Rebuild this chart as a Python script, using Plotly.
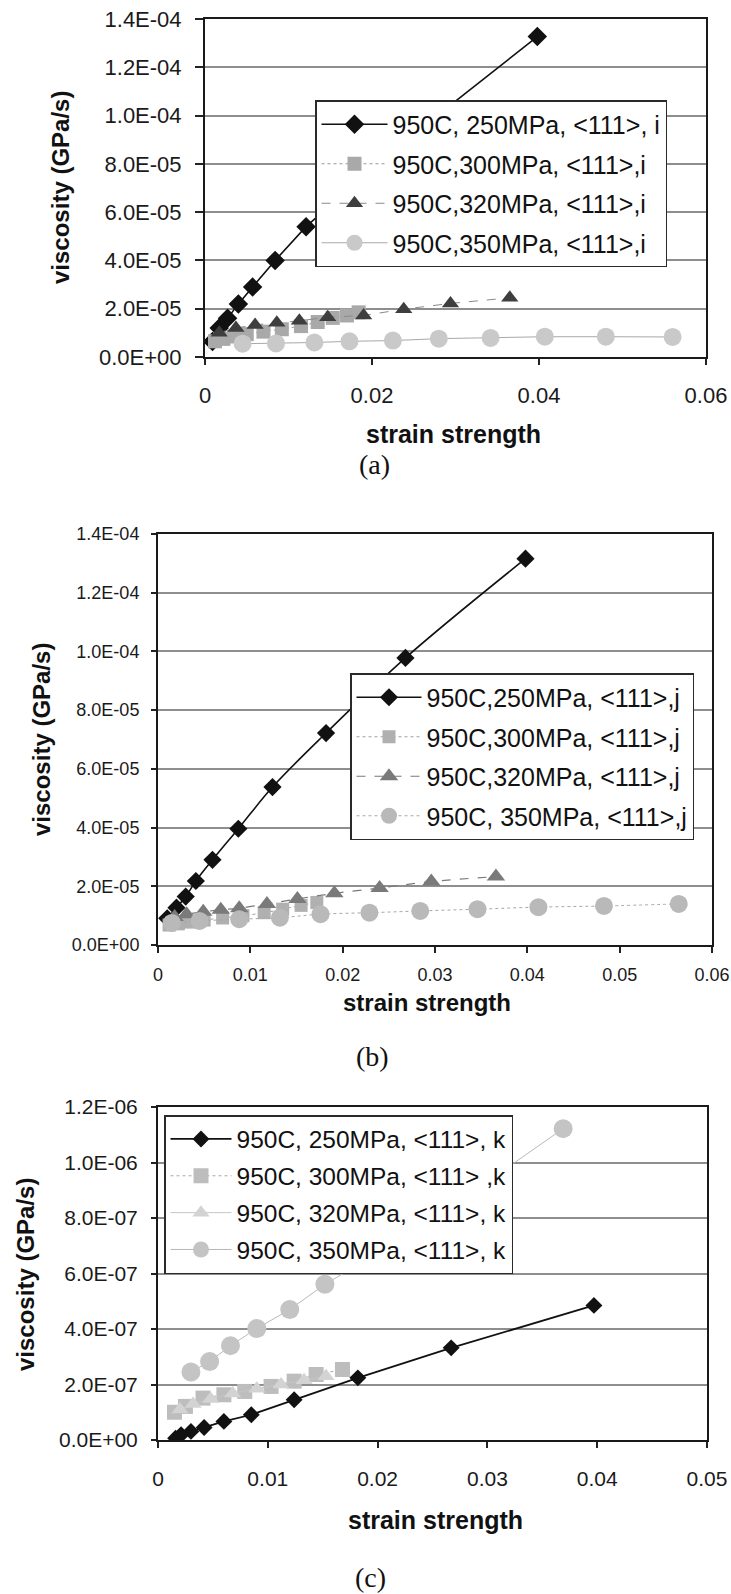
import plotly.graph_objects as go

W, H = 731, 1594

# ---------------- data ----------------
# panel (a)  <111>, i
x250a = [0.0009, 0.0017, 0.0027, 0.0040, 0.0057, 0.0084, 0.0121, 0.0180, 0.0267, 0.0398]
y250a = [6.4e-6, 1.2e-5, 1.6e-5, 2.2e-5, 2.9e-5, 4.0e-5, 5.4e-5, 7.2e-5, 9.7e-5, 1.327e-4]
x300a = [0.0012, 0.0022, 0.0035, 0.0050, 0.0070, 0.0092, 0.0115, 0.0135, 0.0153, 0.0170, 0.0184]
y300a = [6.5e-6, 7.5e-6, 8.5e-6, 9.5e-6, 1.05e-5, 1.15e-5, 1.28e-5, 1.45e-5, 1.62e-5, 1.72e-5, 1.85e-5]
x320a = [0.0017, 0.0037, 0.0060, 0.0086, 0.0113, 0.0147, 0.0190, 0.0238, 0.0294, 0.0365]
y320a = [1.0e-5, 1.2e-5, 1.33e-5, 1.42e-5, 1.5e-5, 1.65e-5, 1.72e-5, 1.98e-5, 2.22e-5, 2.45e-5]
x350a = [0.0045, 0.0085, 0.0131, 0.0173, 0.0225, 0.0280, 0.0342, 0.0407, 0.0480, 0.0560]
y350a = [5.5e-6, 5.6e-6, 6.0e-6, 6.5e-6, 6.8e-6, 7.6e-6, 7.9e-6, 8.4e-6, 8.4e-6, 8.3e-6]

# panel (b)  <111>, j
x250b = [0.0010, 0.0020, 0.0030, 0.0041, 0.0059, 0.0087, 0.0124, 0.0182, 0.0268, 0.0398]
y250b = [9.1e-6, 1.27e-5, 1.65e-5, 2.18e-5, 2.9e-5, 3.96e-5, 5.38e-5, 7.22e-5, 9.78e-5, 1.316e-4]
x300b = [0.0012, 0.0022, 0.0035, 0.0050, 0.0070, 0.0092, 0.0115, 0.0135, 0.0155, 0.0172]
y300b = [6.8e-6, 7.2e-6, 7.8e-6, 8.5e-6, 9.2e-6, 1.0e-5, 1.1e-5, 1.22e-5, 1.35e-5, 1.45e-5]
x320b = [0.0018, 0.0031, 0.0049, 0.0068, 0.0088, 0.0118, 0.0151, 0.0191, 0.0240, 0.0296, 0.0366]
y320b = [9.5e-6, 1.05e-5, 1.13e-5, 1.2e-5, 1.25e-5, 1.4e-5, 1.57e-5, 1.76e-5, 1.94e-5, 2.16e-5, 2.33e-5]
x350b = [0.0015, 0.0045, 0.0088, 0.0132, 0.0176, 0.0229, 0.0284, 0.0346, 0.0412, 0.0483, 0.0564]
y350b = [7.5e-6, 8.2e-6, 8.8e-6, 9.3e-6, 1.05e-5, 1.1e-5, 1.16e-5, 1.22e-5, 1.29e-5, 1.33e-5, 1.4e-5]

# panel (c)  <111>, k
x250c = [0.0016, 0.0021, 0.0030, 0.0042, 0.0060, 0.0085, 0.0124, 0.0182, 0.0267, 0.0397]
y250c = [6.5e-9, 1.9e-8, 3.1e-8, 4.5e-8, 6.7e-8, 9.1e-8, 1.45e-7, 2.24e-7, 3.32e-7, 4.85e-7]
x300c = [0.0015, 0.0025, 0.0041, 0.0060, 0.0079, 0.0103, 0.0124, 0.0144, 0.0168]
y300c = [1.0e-7, 1.21e-7, 1.51e-7, 1.63e-7, 1.75e-7, 1.93e-7, 2.12e-7, 2.36e-7, 2.54e-7]
x320c = [0.0020, 0.0032, 0.0048, 0.0068, 0.0090, 0.0112, 0.0133, 0.0153]
y320c = [1.1e-7, 1.3e-7, 1.48e-7, 1.68e-7, 1.85e-7, 2.0e-7, 2.15e-7, 2.3e-7]
x350c = [0.0030, 0.0047, 0.0066, 0.0090, 0.0120, 0.0152, 0.0188, 0.0232, 0.0285, 0.0369]
y350c = [2.45e-7, 2.83e-7, 3.4e-7, 4.02e-7, 4.7e-7, 5.61e-7, 6.45e-7, 7.6e-7, 8.9e-7, 1.122e-6]

names_a = ["950C, 250MPa, <111>, i", "950C,300MPa, <111>,i", "950C,320MPa, <111>,i", "950C,350MPa, <111>,i"]
names_b = ["950C,250MPa, <111>,j", "950C,300MPa, <111>,j", "950C,320MPa, <111>,j", "950C, 350MPa, <111>,j"]
names_c = ["950C, 250MPa, <111>, k", "950C, 300MPa, <111> ,k", "950C, 320MPa, <111>, k", "950C, 350MPa, <111>, k"]

ytick_ab_vals = [0, 2e-5, 4e-5, 6e-5, 8e-5, 1e-4, 1.2e-4, 1.4e-4]
ytick_ab_text = ["0.0E+00", "2.0E-05", "4.0E-05", "6.0E-05", "8.0E-05", "1.0E-04", "1.2E-04", "1.4E-04"]
ytick_c_vals = [0, 2e-7, 4e-7, 6e-7, 8e-7, 1e-6, 1.2e-6]
ytick_c_text = ["0.0E+00", "2.0E-07", "4.0E-07", "6.0E-07", "8.0E-07", "1.0E-06", "1.2E-06"]
xtick_a_vals = [0, 0.02, 0.04, 0.06]
xtick_a_text = ["0", "0.02", "0.04", "0.06"]
xtick_b_vals = [0, 0.01, 0.02, 0.03, 0.04, 0.05, 0.06]
xtick_b_text = ["0", "0.01", "0.02", "0.03", "0.04", "0.05", "0.06"]
xtick_c_vals = [0, 0.01, 0.02, 0.03, 0.04, 0.05]
xtick_c_text = ["0", "0.01", "0.02", "0.03", "0.04", "0.05"]

def px_x(p):
    return p / W

def px_y(p):
    return 1 - p / H

SANS = "Liberation Sans, Arial, sans-serif"
SERIF = "Liberation Serif, Times New Roman, serif"

fig = go.Figure()

def add(xs, ys, name, n, legend, sym, msize, mcolor, lcolor, lwidth, dash, shape="linear"):
    fig.add_trace(go.Scatter(
        x=xs, y=ys, name=name, mode="lines+markers",
        xaxis="x" + ("" if n == 1 else str(n)), yaxis="y" + ("" if n == 1 else str(n)),
        legend=legend, legendgroup=legend + name,
        line=dict(color=lcolor, width=lwidth, dash=dash, shape=shape),
        marker=dict(symbol=sym, size=msize, color=mcolor, line=dict(width=0)),
    ))

# panel (a)
add(x250a, y250a, names_a[0], 1, "legend", "diamond", 15, "#111111", "#111111", 1.6, "solid")
add(x300a, y300a, names_a[1], 1, "legend", "square", 14, "#a9a9a9", "#9a9a9a", 1.0, "dot")
add(x320a, y320a, names_a[2], 1, "legend", "triangle-up", 15, "#3e3e3e", "#8a8a8a", 1.0, "dash")
add(x350a, y350a, names_a[3], 1, "legend", "circle", 18, "#c9c9c9", "#a8a8a8", 1.0, "solid")

# panel (b)
add(x250b, y250b, names_b[0], 2, "legend2", "diamond", 14, "#111111", "#111111", 1.6, "solid", "spline")
add(x300b, y300b, names_b[1], 2, "legend2", "square", 13, "#b0b0b0", "#a0a0a0", 1.0, "dot", "spline")
add(x320b, y320b, names_b[2], 2, "legend2", "triangle-up", 16, "#7a7a7a", "#7a7a7a", 1.2, "dash", "spline")
add(x350b, y350b, names_b[3], 2, "legend2", "circle", 18, "#b9b9b9", "#a8a8a8", 1.0, "dot", "spline")

# panel (c)
add(x250c, y250c, names_c[0], 3, "legend3", "diamond", 13, "#111111", "#111111", 1.8, "solid")
add(x300c, y300c, names_c[1], 3, "legend3", "square", 15, "#bdbdbd", "#a8a8a8", 1.0, "dot")
add(x320c, y320c, names_c[2], 3, "legend3", "triangle-up", 15, "#d3d3d3", "#c6c6c6", 1.0, "solid")
add(x350c, y350c, names_c[3], 3, "legend3", "circle", 19, "#c4c4c4", "#b8b8b8", 1.0, "solid")

# panel geometry (pixels)
panels = {
    1: dict(l=205, r=706, t=19, b=357, xr=[0, 0.06], yr=[0, 1.4e-4], xv=xtick_a_vals, xt=xtick_a_text,
            yv=ytick_ab_vals, yt=ytick_ab_text, tf=22, ytl=8, ysd=9, xsd=12),
    2: dict(l=158, r=712, t=534, b=945, xr=[0, 0.06], yr=[0, 1.4e-4], xv=xtick_b_vals, xt=xtick_b_text,
            yv=ytick_ab_vals, yt=ytick_ab_text, tf=18, ytl=5, ysd=8, xsd=6),
    3: dict(l=158, r=707, t=1107, b=1440, xr=[0, 0.05], yr=[0, 1.2e-6], xv=xtick_c_vals, xt=xtick_c_text,
            yv=ytick_c_vals, yt=ytick_c_text, tf=21, ytl=5, ysd=9, xsd=13),
}

lay = {}
for n, p in panels.items():
    sx = "" if n == 1 else str(n)
    lay["xaxis" + sx] = dict(
        domain=[px_x(p["l"]), px_x(p["r"])], range=p["xr"], anchor="y" + sx, automargin=False,
        tickvals=p["xv"], ticktext=p["xt"], ticks="outside", ticklen=6, tickwidth=1.5, tickcolor="#222",
        showgrid=False, zeroline=False, showline=True, mirror=True, linecolor="#1a1a1a", linewidth=2,
        tickfont=dict(family=SANS, size=p["tf"], color="#1a1a1a"), ticklabelstandoff=p["xsd"],
        ticklabeloverflow="allow",
    )
    lay["yaxis" + sx] = dict(
        domain=[px_y(p["b"]), px_y(p["t"])], range=p["yr"], anchor="x" + sx, automargin=False,
        tickvals=p["yv"], ticktext=p["yt"], ticks="outside", ticklen=p["ytl"], tickwidth=1.5, tickcolor="#222",
        showgrid=True, gridcolor="#8e8e8e", gridwidth=1.5, zeroline=False,
        showline=True, mirror=True, linecolor="#1a1a1a", linewidth=2,
        tickfont=dict(family=SANS, size=p["tf"], color="#1a1a1a"), ticklabelstandoff=p["ysd"],
        ticklabeloverflow="allow",
    )

def leg(xp, yp, size, gap, iw):
    return dict(x=px_x(xp), y=px_y(yp), xanchor="left", yanchor="top", bgcolor="white",
                bordercolor="#2a2a2a", borderwidth=1.5, font=dict(family=SANS, size=size, color="#111"),
                tracegroupgap=gap, itemwidth=iw, traceorder="grouped", itemclick=False)

lay["legend"] = leg(315, 100, 25, 4, 66)
lay["legend2"] = leg(350, 673, 25, 4, 65)
lay["legend3"] = leg(164, 1115, 24.5, 2, 61)

ann = []
def text(x, y, s, size, family=SANS, bold=True, angle=0):
    ann.append(dict(x=px_x(x), y=px_y(y), xref="paper", yref="paper", text=("<b>%s</b>" % s) if bold else s,
                    showarrow=False, textangle=angle, xanchor="center", yanchor="middle",
                    font=dict(family=family, size=size, color="#111")))

text(61, 188, "viscosity (GPa/s)", 24, angle=-90)
text(41, 740, "viscosity (GPa/s)", 24, angle=-90)
text(25, 1275, "viscosity (GPa/s)", 24, angle=-90)
text(453, 434, "strain strength", 25)
text(427, 1002, "strain strength", 24)
text(435, 1520, "strain strength", 25)
text(374, 464, "(a)", 28, SERIF, bold=False)
text(372, 1056, "(b)", 28, SERIF, bold=False)
text(370, 1577, "(c)", 28, SERIF, bold=False)

fig.update_layout(
    width=W, height=H, margin=dict(l=0, r=0, t=0, b=0, autoexpand=False),
    paper_bgcolor="white", plot_bgcolor="white",
    annotations=ann, **lay,
)

fig.write_html("out.html", config={"responsive": False},
               post_script="document.body.style.margin='0';document.body.style.overflow='hidden';")
